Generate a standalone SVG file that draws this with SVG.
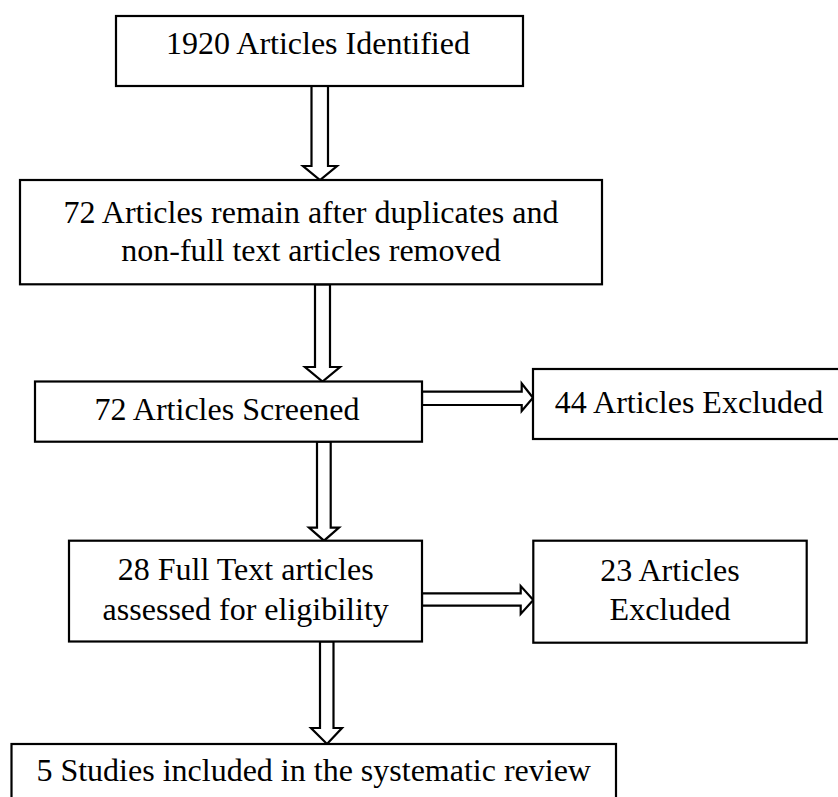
<svg xmlns="http://www.w3.org/2000/svg" width="838" height="797" viewBox="0 0 838 797">
<style>
.box{fill:#fff;stroke:#000;stroke-width:2.2}
.arr{fill:#fff;stroke:#000;stroke-width:2.2;stroke-linejoin:miter}
text{font-family:'Liberation Serif','Times New Roman',serif;font-size:32px;fill:#000;text-anchor:middle}
</style>
<rect width="838" height="797" fill="#fff"/>
<g id="connectors">
<polygon class="arr" points="311.5,86 328,86 328,166 337,166 320,180 303,166 311.5,166"/>
<polygon class="arr" points="315,284.3 330,284.3 330,367 340,367 322.5,381.5 305,367 315,367"/>
<polygon class="arr" points="317,441.7 330.7,441.7 330.7,527.7 339,527.7 324,540.7 309,527.7 317,527.7"/>
<polygon class="arr" points="320,641.5 333.5,641.5 333.5,728 342,728 327,744 311,728 320,728"/>
<polygon class="arr" points="422,391.7 521.7,391.7 521.7,383.5 533,397.7 521.7,411 521.7,405 422,405"/>
<polygon class="arr" points="422,593.3 520.7,593.3 520.7,586 533.3,600 520.7,614 520.7,605.7 422,605.7"/>
</g>
<g id="n1">
<rect class="box" x="116" y="16" width="407" height="70"/>
<text x="318" y="54.3">1920 Articles Identified</text>
</g>
<g id="n2">
<rect class="box" x="20" y="180" width="582" height="104.3"/>
<text x="311" y="223">72 Articles remain after duplicates and</text>
<text x="311" y="261">non-full text articles removed</text>
</g>
<g id="n3">
<rect class="box" x="35" y="381.5" width="387" height="60.2"/>
<text x="227" y="420">72 Articles Screened</text>
</g>
<g id="n4">
<rect class="box" x="533" y="369" width="312" height="70"/>
<text x="689" y="413.3">44 Articles Excluded</text>
</g>
<g id="n5">
<rect class="box" x="69" y="540.7" width="353" height="100.8"/>
<text x="245.7" y="580">28 Full Text articles</text>
<text x="245.7" y="619.5">assessed for eligibility</text>
</g>
<g id="n6">
<rect class="box" x="533.3" y="540.7" width="273.4" height="102"/>
<text x="670" y="580.7">23 Articles</text>
<text x="670" y="620">Excluded</text>
</g>
<g id="n7">
<rect class="box" x="11.5" y="744" width="604.5" height="60"/>
<text x="313.7" y="781">5 Studies included in the systematic review</text>
</g>
</svg>
